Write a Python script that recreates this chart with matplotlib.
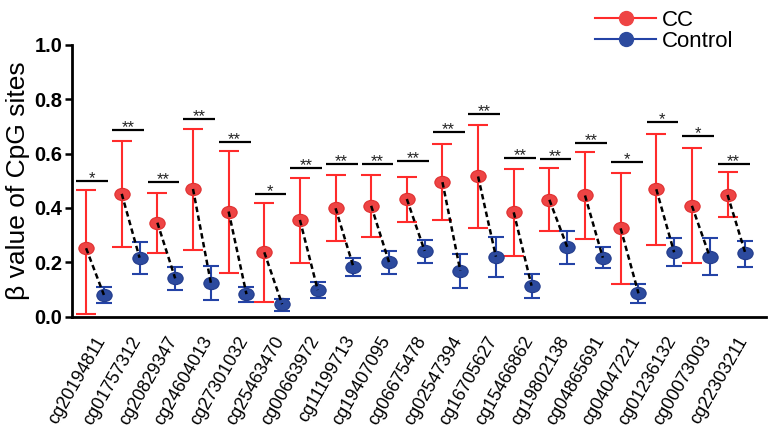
import numpy as np
import matplotlib
matplotlib.use("Agg")
import matplotlib.pyplot as plt
from matplotlib.path import Path
from matplotlib.transforms import Affine2D

plt.rcParams['font.family'] = ['Liberation Sans', 'DejaVu Sans']

# CpG sites and beta values
labels = ["cg20194811", "cg01757312", "cg20829347", "cg24604013", "cg27301032",
          "cg25463470", "cg00663972", "cg11199713", "cg19407095", "cg06675478",
          "cg02547394", "cg16705627", "cg15466862", "cg19802138", "cg04865691",
          "cg04047221", "cg01236132", "cg00073003", "cg22303211"]

cc_mean = [0.252, 0.452, 0.346, 0.470, 0.387, 0.237, 0.356, 0.399, 0.408, 0.433,
           0.495, 0.516, 0.384, 0.430, 0.446, 0.325, 0.469, 0.408, 0.448]
cc_low = [0.009, 0.258, 0.236, 0.245, 0.162, 0.054, 0.199, 0.279, 0.295, 0.348,
          0.356, 0.325, 0.225, 0.316, 0.286, 0.119, 0.264, 0.197, 0.368]
cc_high = [0.466, 0.648, 0.457, 0.690, 0.608, 0.417, 0.510, 0.522, 0.522, 0.515,
           0.635, 0.706, 0.543, 0.546, 0.605, 0.530, 0.673, 0.620, 0.532]

ctrl_mean = [0.080, 0.217, 0.141, 0.125, 0.083, 0.046, 0.098, 0.184, 0.201, 0.242,
             0.169, 0.221, 0.114, 0.257, 0.217, 0.086, 0.237, 0.221, 0.233]
ctrl_low = [0.049, 0.157, 0.098, 0.061, 0.055, 0.021, 0.068, 0.150, 0.157, 0.199,
            0.107, 0.145, 0.068, 0.194, 0.178, 0.052, 0.188, 0.154, 0.184]
ctrl_high = [0.110, 0.276, 0.183, 0.188, 0.110, 0.065, 0.129, 0.215, 0.242, 0.282,
             0.231, 0.292, 0.157, 0.316, 0.258, 0.120, 0.289, 0.289, 0.280]

sig_y = [0.500, 0.687, 0.496, 0.727, 0.644, 0.452, 0.546, 0.561, 0.561, 0.573,
         0.679, 0.746, 0.585, 0.581, 0.638, 0.570, 0.717, 0.666, 0.561]
sig_text = ["*", "**", "**", "**", "**", "*", "**", "**", "**", "**",
            "**", "**", "**", "**", "**", "*", "*", "*", "**"]

red = "#FF2B2B"
red_fill = "#EE4444"
blue = "#2443A6"
blue_fill = "#2C4A9E"

# slightly flattened circle, like the original markers
ellipse = Path(Affine2D().scale(1.0, 0.8).transform(Path.unit_circle().vertices),
               Path.unit_circle().codes)

x = np.arange(len(labels))
x_cc = x - 0.25
x_ctrl = x + 0.25
cc_mean = np.array(cc_mean)
ctrl_mean = np.array(ctrl_mean)

fig = plt.figure(figsize=(7.68, 4.30), dpi=100)
ax = fig.add_axes([0.094, 0.2635, 0.903, 0.632])

cc_err = [cc_mean - np.array(cc_low), np.array(cc_high) - cc_mean]
ctrl_err = [ctrl_mean - np.array(ctrl_low), np.array(ctrl_high) - ctrl_mean]

ax.errorbar(x_cc, cc_mean, yerr=cc_err, fmt='none', ecolor=red, elinewidth=1.5,
            capsize=7, capthick=1.5, zorder=2)
ax.errorbar(x_ctrl, ctrl_mean, yerr=ctrl_err, fmt='none', ecolor=blue, elinewidth=1.5,
            capsize=5.5, capthick=1.5, zorder=2)

for i in range(len(labels)):
    ax.plot([x_cc[i], x_ctrl[i]], [cc_mean[i], ctrl_mean[i]], color='black',
            ls=(0, (2.2, 1.4)), lw=1.8, zorder=4)
    ax.plot([x[i] - 0.52, x[i] + 0.37], [sig_y[i], sig_y[i]], color='black', lw=1.6,
            solid_capstyle='butt')
    ax.annotate(sig_text[i], (x[i] - 0.08, sig_y[i]), xytext=(0, -1.5),
                textcoords='offset points', ha='center', va='baseline', fontsize=12,
                color='#222222')

ax.plot(x_cc, cc_mean, ls='none', marker=ellipse, ms=11, mfc=red_fill, mec="#E03030",
        mew=0.8, zorder=3)
ax.plot(x_ctrl, ctrl_mean, ls='none', marker=ellipse, ms=11, mfc=blue_fill, mec="#233C8C",
        mew=0.8, zorder=3)

ax.set_xlim(-0.64, 18.82)
ax.set_ylim(0, 1.0)
ax.set_yticks([0.0, 0.2, 0.4, 0.6, 0.8, 1.0])
ax.set_yticklabels(["0.0", "0.2", "0.4", "0.6", "0.8", "1.0"], fontsize=14.5, fontweight='bold')
ax.set_xticks(x + 0.4)
ax.set_xticklabels(labels, rotation=60, ha='right', fontsize=13)
ax.tick_params(axis='x', length=0, pad=12)
ax.tick_params(axis='y', length=5, width=1.8, direction='out', pad=2)
ax.set_ylabel("β value of CpG sites", fontsize=19, labelpad=3)

for s in ['top', 'right']:
    ax.spines[s].set_visible(False)
for s in ['left', 'bottom']:
    ax.spines[s].set_linewidth(2)

h_cc, = ax.plot([], [], color=red, lw=1.5, marker='o', ms=10, mfc=red_fill, mec=red_fill)
h_ctrl, = ax.plot([], [], color=blue, lw=1.5, marker='o', ms=10, mfc=blue_fill, mec=blue_fill)
fig.legend([h_cc, h_ctrl], ["CC", "Control"], loc='upper left',
           bbox_to_anchor=(595 / 768, 1 - 10 / 430), frameon=False, fontsize=16,
           handlelength=2.75, handletextpad=0.25, labelspacing=0.0, borderpad=0.0,
           borderaxespad=0.0)

fig.savefig("out.png", dpi=100)
